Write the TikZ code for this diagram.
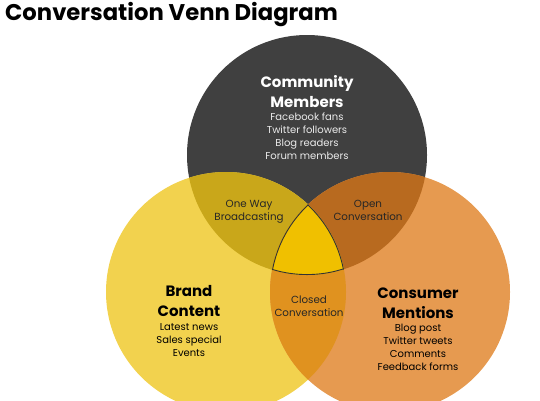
\documentclass[tikz,border=0pt]{standalone}
\usepackage{fontspec}
\setmainfont{Poppins}
\definecolor{cgray}{HTML}{404040}
\definecolor{cyellow}{HTML}{F2D24E}
\definecolor{corange}{HTML}{E69A50}
\definecolor{cgy}{HTML}{C9A71A}
\definecolor{cgo}{HTML}{B86A1F}
\definecolor{cyo}{HTML}{E0921F}
\definecolor{ccenter}{HTML}{F0C000}
\begin{document}
\begin{tikzpicture}[x=1pt,y=-1pt,
  heading/.style={font=\bfseries\fontsize{15}{20}\selectfont,align=center,inner sep=0pt,anchor=base},
  items/.style={font=\fontsize{10}{13}\selectfont,align=center,inner sep=0pt,anchor=base},
  overlap/.style={font=\fontsize{10.3}{12.5}\selectfont,align=center,inner sep=0pt,anchor=base,text=black!85}]
\useasboundingbox (0,0) rectangle (540,400);
\clip (0,0) rectangle (540,400);
\coordinate (T) at (307,155);
\coordinate (L) at (226,292);
\coordinate (R) at (390,292);
% circles
\fill[cgray] (T) circle (120);
\fill[cyellow] (L) circle (120);
\fill[corange] (R) circle (120);
% pairwise overlaps
\begin{scope}\clip (T) circle (120); \fill[cgy] (L) circle (120);\end{scope}
\begin{scope}\clip (T) circle (120); \fill[cgo] (R) circle (120);\end{scope}
\begin{scope}\clip (L) circle (120); \fill[cyo] (R) circle (120);\end{scope}
% centre
\begin{scope}
\clip (T) circle (120); \clip (L) circle (120); \clip (R) circle (120);
\fill[ccenter] (T) circle (120);
\foreach \c in {T,L,R}{\draw[black!80,line width=1.8pt] (\c) circle (120);}
\end{scope}
% title
\node[anchor=base west,inner sep=0pt,font=\bfseries\fontsize{22.7}{26}\selectfont] (title) at (5,20) {Conversation Venn Diagram};
% labels (anchor = baseline of last line)
\node[heading,text=white] (comm) at (307,107) {Community\\Members};
\node[items,text=white!92!black] (commlist) at (307,159) {Facebook fans\\Twitter followers\\Blog readers\\Forum members};
\node[heading] (brand) at (189,316) {Brand\\Content};
\node[items] (brandlist) at (189,356) {Latest news\\Sales special\\Events};
\node[heading] (cons) at (418,318) {Consumer\\Mentions};
\node[items] (conslist) at (418,370) {Blog post\\Twitter tweets\\Comments\\Feedback forms};
\node[overlap] (oneway) at (249,220) {One Way\\Broadcasting};
\node[overlap] (open) at (368,220) {Open\\Conversation};
\node[overlap] (closed) at (309,316) {Closed\\Conversation};
\end{tikzpicture}
\end{document}
